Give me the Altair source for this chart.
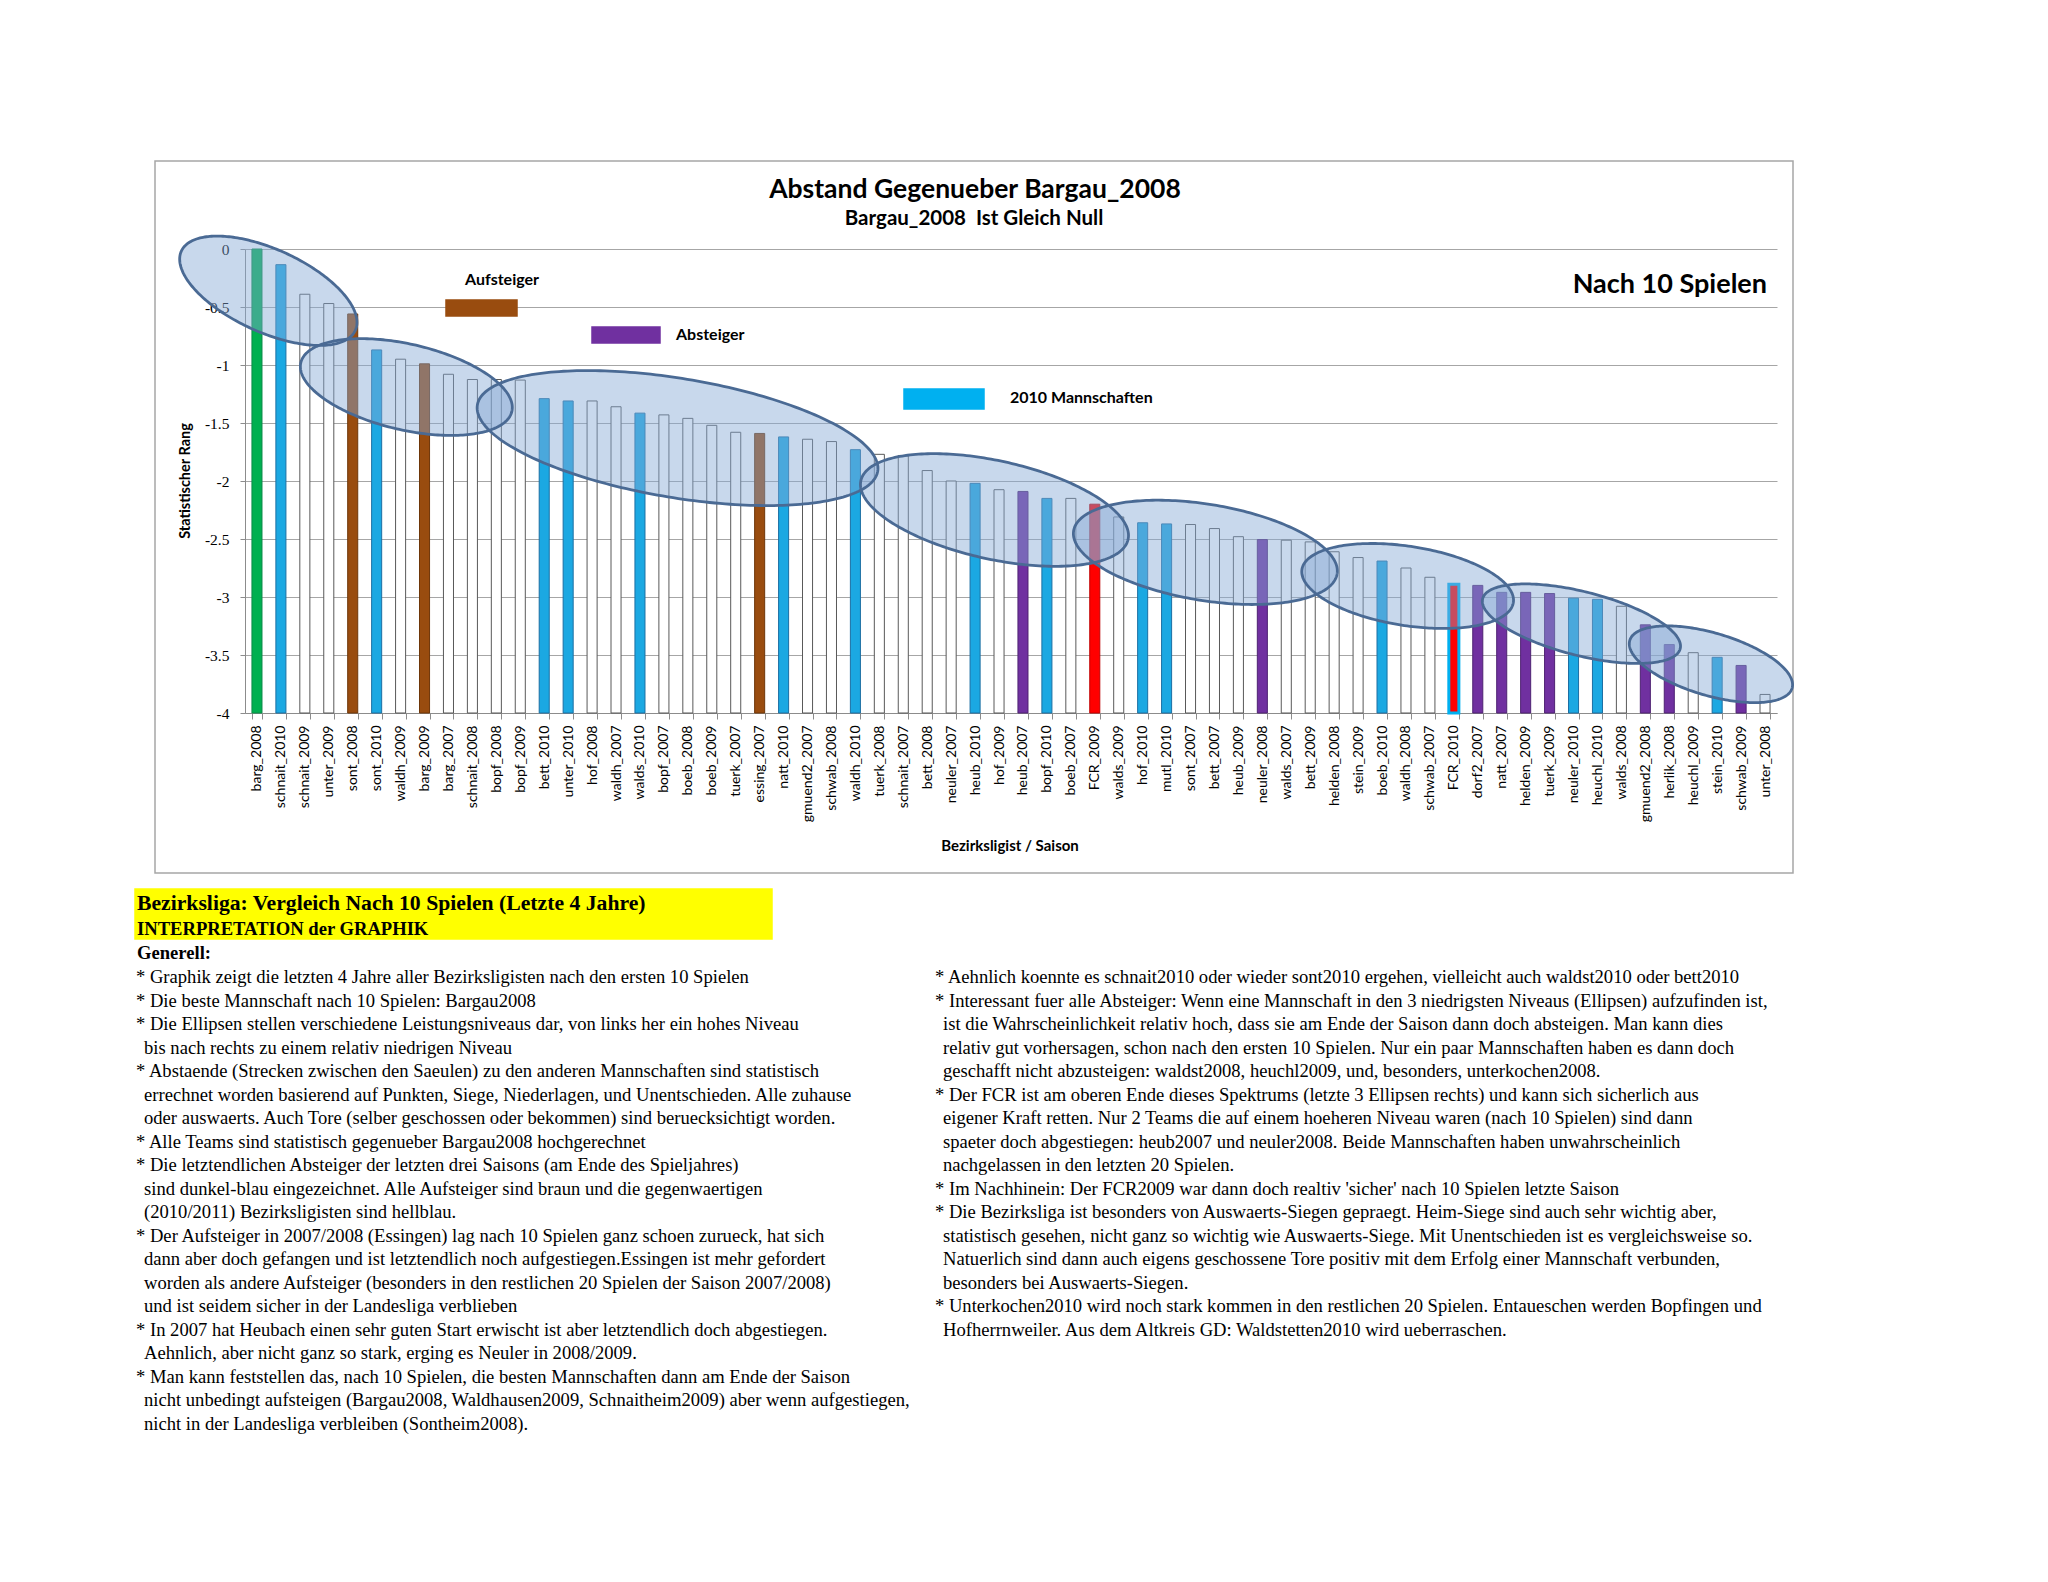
import altair as alt
import numpy as np
import pandas as pd

# ---------------- data ----------------
teams = ["barg_2008", "schnait_2010", "schnait_2009", "unter_2009", "sont_2008", "sont_2010",
         "waldh_2009", "barg_2009", "barg_2007", "schnait_2008", "bopf_2008", "bopf_2009",
         "bett_2010", "unter_2010", "hof_2008", "waldh_2007", "walds_2010", "bopf_2007",
         "boeb_2008", "boeb_2009", "tuerk_2007", "essing_2007", "natt_2010", "gmuend2_2007",
         "schwab_2008", "waldh_2010", "tuerk_2008", "schnait_2007", "bett_2008", "neuler_2007",
         "heub_2010", "hof_2009", "heub_2007", "bopf_2010", "boeb_2007", "FCR_2009",
         "walds_2009", "hof_2010", "mutl_2010", "sont_2007", "bett_2007", "heub_2009",
         "neuler_2008", "walds_2007", "bett_2009", "helden_2008", "stein_2009", "boeb_2010",
         "waldh_2008", "schwab_2007", "FCR_2010", "dorf2_2007", "natt_2007", "helden_2009",
         "tuerk_2009", "neuler_2010", "heuchl_2010", "walds_2008", "gmuend2_2008", "herlik_2008",
         "heuchl_2009", "stein_2010", "schwab_2009", "unter_2008"]

rang = [0.0, -0.135, -0.39, -0.47, -0.56, -0.87,
        -0.95, -0.99, -1.08, -1.125, -1.125, -1.13,
        -1.29, -1.31, -1.31, -1.36, -1.415, -1.43,
        -1.46, -1.52, -1.58, -1.59, -1.62, -1.64,
        -1.66, -1.73, -1.77, -1.78, -1.91, -2.0,
        -2.02, -2.075, -2.09, -2.15, -2.15, -2.2,
        -2.31, -2.36, -2.37, -2.375, -2.41, -2.48,
        -2.505, -2.51, -2.525, -2.61, -2.66, -2.69,
        -2.75, -2.83, -2.89, -2.9, -2.96, -2.96,
        -2.97, -3.01, -3.02, -3.08, -3.24, -3.41,
        -3.48, -3.52, -3.59, -3.84]

kategorie = ["spitze", "team2010", "sonst", "sonst", "aufsteiger", "team2010",
             "sonst", "aufsteiger", "sonst", "sonst", "sonst", "sonst",
             "team2010", "team2010", "sonst", "sonst", "team2010", "sonst",
             "sonst", "sonst", "sonst", "aufsteiger", "team2010", "sonst",
             "sonst", "team2010", "sonst", "sonst", "sonst", "sonst",
             "team2010", "sonst", "absteiger", "team2010", "sonst", "fcr",
             "sonst", "team2010", "team2010", "sonst", "sonst", "sonst",
             "absteiger", "sonst", "sonst", "sonst", "sonst", "team2010",
             "sonst", "sonst", "fcr2010", "absteiger", "absteiger", "absteiger",
             "absteiger", "team2010", "team2010", "sonst", "absteiger", "absteiger",
             "sonst", "team2010", "absteiger", "sonst"]

y_ticks = [0, -0.5, -1, -1.5, -2, -2.5, -3, -3.5, -4]

# ellipse annotations (centre in bar units / rank units, semi axes in px, tilt in degrees)
ell_cx = [0.975, 6.74, 18.07, 31.31, 40.12, 48.57, 55.83, 61.24]
ell_cy = [-0.36, -1.19, -1.63, -2.25, -2.615, -2.905, -3.23, -3.58]
ell_a = [95.6, 108.3, 202.9, 136.8, 133.5, 107.0, 101.9, 84.6]
ell_b = [41.4, 42.9, 59.6, 49.2, 48.1, 39.6, 31.9, 31.3]
ell_ang = [24.5, 13.0, 9.4, 12.4, 9.3, 8.9, 14.2, 16.4]

titel = "Abstand Gegenueber Bargau_2008"
untertitel = "Bargau_2008\u00a0 Ist Gleich Null"
nach = "Nach 10 Spielen"
legende = ["Aufsteiger", "Absteiger", "2010 Mannschaften"]
y_titel = "Statistischer Rang"
x_titel = "Bezirksligist / Saison"

kopf = ["Bezirksliga: Vergleich Nach 10 Spielen (Letzte 4 Jahre)",
        "INTERPRETATION der GRAPHIK",
        "Generell:"]

links = [
    "* Graphik zeigt die letzten 4 Jahre aller Bezirksligisten nach den ersten 10 Spielen",
    "* Die beste Mannschaft nach 10 Spielen: Bargau2008",
    "* Die Ellipsen stellen verschiedene Leistungsniveaus dar, von links her ein hohes Niveau",
    "bis nach rechts zu einem relativ niedrigen Niveau",
    "* Abstaende (Strecken zwischen den Saeulen) zu den anderen Mannschaften sind statistisch",
    "errechnet worden basierend auf Punkten, Siege, Niederlagen, und Unentschieden. Alle zuhause",
    "oder auswaerts. Auch Tore (selber geschossen oder bekommen) sind beruecksichtigt worden.",
    "* Alle Teams sind statistisch gegenueber Bargau2008 hochgerechnet",
    "* Die letztendlichen Absteiger der letzten drei Saisons (am Ende des Spieljahres)",
    "sind dunkel-blau eingezeichnet. Alle Aufsteiger sind braun und die gegenwaertigen",
    "(2010/2011) Bezirksligisten sind hellblau.",
    "* Der Aufsteiger in 2007/2008 (Essingen) lag nach 10 Spielen ganz schoen zurueck, hat sich",
    "dann aber doch gefangen und ist letztendlich noch aufgestiegen.Essingen ist mehr gefordert",
    "worden als andere Aufsteiger (besonders in den restlichen 20 Spielen der Saison 2007/2008)",
    "und ist seidem sicher in der Landesliga verblieben",
    "* In 2007 hat Heubach einen sehr guten Start erwischt ist aber letztendlich doch abgestiegen.",
    "Aehnlich, aber nicht ganz so stark, erging es Neuler in 2008/2009.",
    "* Man kann feststellen das, nach 10 Spielen, die besten Mannschaften dann am Ende der Saison",
    "nicht unbedingt aufsteigen (Bargau2008, Waldhausen2009, Schnaitheim2009) aber wenn aufgestiegen,",
    "nicht in der Landesliga verbleiben (Sontheim2008).",
]

rechts = [
    "* Aehnlich koennte es schnait2010 oder wieder sont2010 ergehen, vielleicht auch waldst2010 oder bett2010",
    "* Interessant fuer alle Absteiger: Wenn eine Mannschaft in den 3 niedrigsten Niveaus (Ellipsen) aufzufinden ist,",
    "ist die Wahrscheinlichkeit relativ hoch, dass sie am Ende der Saison dann doch absteigen. Man kann dies",
    "relativ gut vorhersagen, schon nach den ersten 10 Spielen. Nur ein paar Mannschaften haben es dann doch",
    "geschafft nicht abzusteigen: waldst2008, heuchl2009, und, besonders, unterkochen2008.",
    "* Der FCR ist am oberen Ende dieses Spektrums (letzte 3 Ellipsen rechts) und kann sich sicherlich aus",
    "eigener Kraft retten. Nur 2 Teams die auf einem hoeheren Niveau waren (nach 10 Spielen) sind dann",
    "spaeter doch abgestiegen: heub2007 und neuler2008. Beide Mannschaften haben unwahrscheinlich",
    "nachgelassen in den letzten 20 Spielen.",
    "* Im Nachhinein: Der FCR2009 war dann doch realtiv 'sicher' nach 10 Spielen letzte Saison",
    "* Die Bezirksliga ist besonders von Auswaerts-Siegen gepraegt. Heim-Siege sind auch sehr wichtig aber,",
    "statistisch gesehen, nicht ganz so wichtig wie Auswaerts-Siege. Mit Unentschieden ist es vergleichsweise so.",
    "Natuerlich sind dann auch eigens geschossene Tore positiv mit dem Erfolg einer Mannschaft verbunden,",
    "besonders bei Auswaerts-Siegen.",
    "* Unterkochen2010 wird noch stark kommen in den restlichen 20 Spielen. Entaueschen werden Bopfingen und",
    "Hofherrnweiler. Aus dem Altkreis GD: Waldstetten2010 wird ueberraschen.",
]

# ---------------- layout ----------------
W, H = 1532, 464
OX, OY = 245, 249           # plot origin in page pixels
bw = W / 64.0
ppu = H / 4.0

kat_domain = ["spitze", "aufsteiger", "absteiger", "team2010", "fcr", "fcr2010", "sonst"]
fill_range = ["#00B050", "#994C0F", "#7030A0", "#1BA8E2", "#FF0000", "#FF0000", "#FFFFFF"]
stroke_range = ["#0E8A48", "#6E3608", "#4E2272", "#1C6FA3", "#C00000", "#00B0F0", "#595959"]

bars = pd.DataFrame({"team": teams, "rang": rang, "kat": kategorie})

bar_layer = alt.Chart(bars).mark_bar().encode(
    x=alt.X("team:N", sort=teams,
            scale=alt.Scale(paddingInner=0.58, paddingOuter=0.29),
            axis=alt.Axis(title=None, labelAngle=-90, labelFont="Lato", labelFontSize=14,
                          labelColor="#000000", labelPadding=6, tickBand="extent",
                          tickSize=6, tickColor="#8C8C8C", domainColor="#8C8C8C",
                          labelOverlap=False, grid=False, labelLimit=300)),
    y=alt.Y("rang:Q", scale=alt.Scale(domain=[-4, 0], nice=False, zero=False),
            axis=alt.Axis(title=None, values=y_ticks, labelExpr="'' + datum.value",
                          labelFont="Liberation Serif", labelFontSize=15.5,
                          labelColor="#000000", labelPadding=11, tickSize=5,
                          tickColor="#8C8C8C", domainColor="#8C8C8C",
                          grid=True, gridColor="#A6A6A6", gridWidth=1)),
    y2=alt.datum(-4),
    fill=alt.Fill("kat:N", scale=alt.Scale(domain=kat_domain, range=fill_range), legend=None),
    stroke=alt.Stroke("kat:N", scale=alt.Scale(domain=kat_domain, range=stroke_range), legend=None),
    strokeWidth=alt.condition(alt.datum.kat == "fcr2010", alt.value(3), alt.value(1)),
)

# ellipse geometry
fill_rows, line_rows = [], []
for e, (cx, cy, a, b, ang) in enumerate(zip(ell_cx, ell_cy, ell_a, ell_b, ell_ang)):
    th = np.radians(ang)
    c, s = np.cos(th), np.sin(th)
    hw = np.sqrt(a * a * c * c + b * b * s * s)
    xs = np.linspace(-hw, hw, 181)
    A = s * s / a ** 2 + c * c / b ** 2
    B = 2 * xs * s * c * (1 / a ** 2 - 1 / b ** 2)
    C = xs ** 2 * (c * c / a ** 2 + s * s / b ** 2) - 1
    disc = np.clip(B * B - 4 * A * C, 0, None)
    y_up = (-B - np.sqrt(disc)) / (2 * A)
    y_dn = (-B + np.sqrt(disc)) / (2 * A)
    for xx, yu, yd in zip(xs, y_up, y_dn):
        fill_rows.append({"e": e, "ex": float(cx + xx / bw), "et": float(cy - yu / ppu),
                          "eb": float(cy - yd / ppu)})
    t = np.linspace(0, 2 * np.pi, 241)
    px = a * np.cos(t) * c - b * np.sin(t) * s
    py = a * np.cos(t) * s + b * np.sin(t) * c
    for k, (xx, yy) in enumerate(zip(px, py)):
        line_rows.append({"e": e, "k": k, "ex": float(cx + xx / bw), "ey": float(cy - yy / ppu)})

ex_scale = alt.Scale(domain=[0, 64], nice=False, zero=False)
ey_scale = alt.Scale(domain=[-4, 0], nice=False, zero=False)

ell_fill = alt.Chart(pd.DataFrame(fill_rows)).mark_area(
    color="#85A8D5", opacity=0.45
).encode(
    x=alt.X("ex:Q", scale=ex_scale, axis=None),
    y=alt.Y("et:Q", scale=ey_scale, axis=None),
    y2="eb:Q",
    detail="e:N",
)

ell_line = alt.Chart(pd.DataFrame(line_rows)).mark_line(
    color="#4A6A94", strokeWidth=2.8
).encode(
    x=alt.X("ex:Q", scale=ex_scale, axis=None),
    y=alt.Y("ey:Q", scale=ey_scale, axis=None),
    detail="e:N",
    order=alt.Order("k:Q"),
)

# rectangles (chart frame, yellow header, legend swatches), page px -> plot px
rect_df = pd.DataFrame({
    "x1": [155 - OX, 135 - OX, 446 - OX, 592 - OX, 904 - OX],
    "x2": [1793 - OX, 772 - OX, 517 - OX, 660 - OX, 984 - OX],
    "y1": [161 - OY, 889 - OY, 300 - OY, 327 - OY, 389 - OY],
    "y2": [873 - OY, 939 - OY, 316 - OY, 343 - OY, 409 - OY],
    "f": ["transparent", "#FFFF00", "#994C0F", "#7030A0", "#00B0F0"],
    "s": ["#A6A6A6", "#FFFF00", "#994C0F", "#7030A0", "#00B0F0"],
})
rects = alt.Chart(rect_df).mark_rect(strokeWidth=1.5).encode(
    x=alt.X("x1:Q", scale=None, axis=None), x2="x2:Q",
    y=alt.Y("y1:Q", scale=None, axis=None), y2="y2:Q",
    fill=alt.Fill("f:N", scale=None), stroke=alt.Stroke("s:N", scale=None),
)


def txt(lines, xs, ys, **kw):
    df = pd.DataFrame({"t": lines, "px": xs, "py": ys})
    return alt.Chart(df).mark_text(**kw).encode(
        x=alt.X("px:Q", scale=None, axis=None),
        y=alt.Y("py:Q", scale=None, axis=None),
        text="t:N",
    )


sans_b = dict(font="Lato", fontWeight="bold", color="#000000")
t_title = txt([titel], [975 - OX], [198 - OY], fontSize=26.5, align="center", baseline="alphabetic", **sans_b)
t_sub = txt([untertitel], [974 - OX], [225 - OY], fontSize=20.5, align="center", baseline="alphabetic", **sans_b)
t_nach = txt([nach], [1767 - OX], [293 - OY], fontSize=27, align="right", baseline="alphabetic", **sans_b)
t_leg = txt(legende, [465 - OX, 676 - OX, 1010 - OX], [280 - OY, 335 - OY, 398 - OY],
            fontSize=16, align="left", baseline="middle", **sans_b)
t_ytit = txt([y_titel], [186 - OX], [OY + H / 2 - OY], fontSize=14.5, align="center", baseline="middle",
             angle=270, **sans_b)
t_xtit = txt([x_titel], [1010 - OX], [846 - OY], fontSize=15, align="center", baseline="middle", **sans_b)

serif_b = dict(font="Liberation Serif", fontWeight="bold", color="#000000", align="left", baseline="middle")
t_k1 = txt([kopf[0]], [137 - OX], [903 - OY], fontSize=21.7, **serif_b)
t_k2 = txt([kopf[1]], [137 - OX], [929 - OY], fontSize=18.6, **serif_b)
t_k3 = txt([kopf[2]], [137 - OX], [953 - OY], fontSize=18.6, **serif_b)

step = 23.5
lx = [(136 if l.startswith("*") else 144) - OX for l in links]
ly = [977 + i * step - OY for i in range(len(links))]
rx = [(935 if l.startswith("*") else 943) - OX for l in rechts]
ry = [977 + i * step - OY for i in range(len(rechts))]
serif = dict(font="Liberation Serif", color="#000000", align="left", baseline="middle", fontSize=18.6)
t_links = txt(links, lx, ly, **serif)
t_rechts = txt(rechts, rx, ry, **serif)

chart = alt.layer(
    rects, bar_layer, ell_fill, ell_line,
    t_title, t_sub, t_nach, t_leg, t_ytit, t_xtit,
    t_k1, t_k2, t_k3, t_links, t_rechts,
).resolve_scale(
    x="independent", y="independent", fill="independent", stroke="independent"
).properties(
    width=W, height=H,
    autosize=alt.AutoSizeParams(type="none"),
    padding={"left": OX - 8, "top": OY - 8, "right": 2048 - 16 - (OX - 8) - W,
             "bottom": 1582 - 16 - (OY - 8) - H},
    background="#FFFFFF",
).configure_view(stroke=None)

chart.save("out.html", embed_options={"renderer": "svg", "actions": False})
